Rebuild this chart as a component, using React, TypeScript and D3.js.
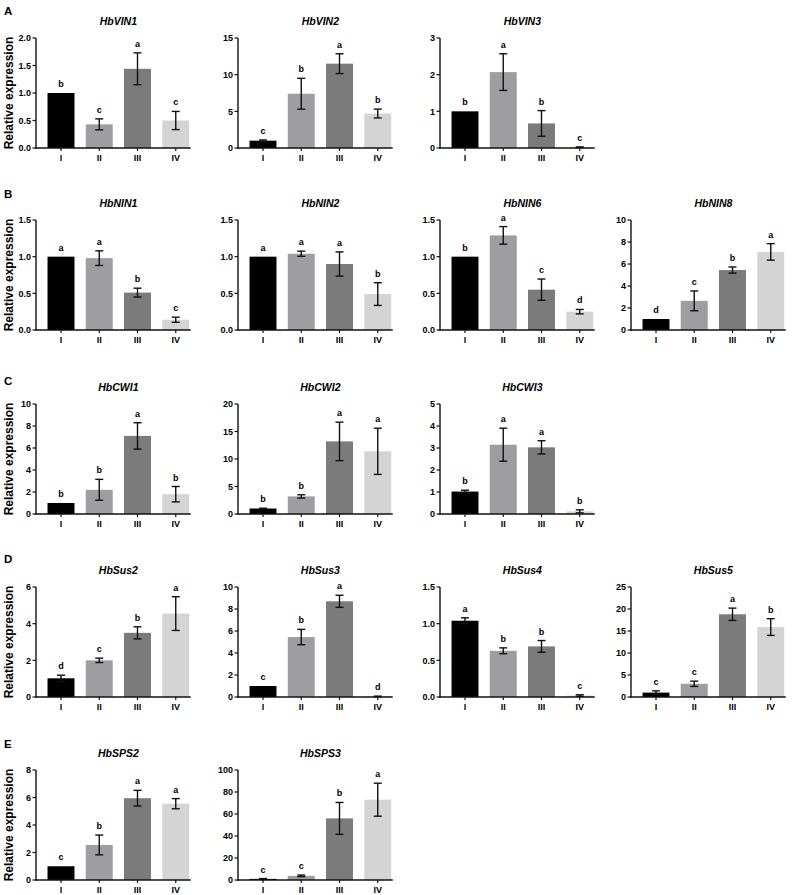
import React from "react";
import * as d3 from "d3";

const groups = ["I", "II", "III", "IV"];
const genes = [
  "HbVIN1", "HbVIN2", "HbVIN3",
  "HbNIN1", "HbNIN2", "HbNIN6", "HbNIN8",
  "HbCWI1", "HbCWI2", "HbCWI3",
  "HbSus2", "HbSus3", "HbSus4", "HbSus5",
  "HbSPS2", "HbSPS3",
];
const panelRows = [0, 0, 0, 1, 1, 1, 1, 2, 2, 2, 3, 3, 3, 3, 4, 4];
const panelCols = [0, 1, 2, 0, 1, 2, 3, 0, 1, 2, 0, 1, 2, 3, 0, 1];
const rowLetters = ["A", "B", "C", "D", "E"];
const yMaxes = [2, 15, 3, 1.5, 1.5, 1.5, 10, 10, 20, 5, 6, 10, 1.5, 25, 8, 100];
const tickSteps = [0.5, 5, 1, 0.5, 0.5, 0.5, 2, 2, 5, 1, 2, 2, 0.5, 5, 2, 20];
const meanValues = [
  [1.0, 0.43, 1.44, 0.5],
  [1.0, 7.4, 11.5, 4.7],
  [1.0, 2.07, 0.67, 0.02],
  [1.0, 0.98, 0.51, 0.14],
  [1.0, 1.04, 0.9, 0.49],
  [1.0, 1.29, 0.55, 0.25],
  [1.0, 2.65, 5.45, 7.1],
  [1.0, 2.2, 7.1, 1.8],
  [1.0, 3.2, 13.2, 11.4],
  [1.02, 3.15, 3.03, 0.12],
  [1.02, 2.0, 3.5, 4.55],
  [1.0, 5.45, 8.7, 0.05],
  [1.04, 0.63, 0.69, 0.02],
  [1.0, 3.0, 18.8, 15.9],
  [1.0, 2.55, 5.95, 5.55],
  [1.0, 3.8, 56, 73],
];
const errValues = [
  [0, 0.1, 0.29, 0.165],
  [0.1, 2.1, 1.35, 0.6],
  [0, 0.5, 0.35, 0.01],
  [0, 0.1, 0.06, 0.035],
  [0, 0.035, 0.165, 0.155],
  [0, 0.12, 0.145, 0.03],
  [0, 0.9, 0.28, 0.75],
  [0, 0.95, 1.2, 0.7],
  [0.05, 0.3, 3.5, 4.2],
  [0.06, 0.75, 0.3, 0.07],
  [0.17, 0.12, 0.33, 0.92],
  [0, 0.7, 0.55, 0.03],
  [0.04, 0.04, 0.08, 0.01],
  [0.4, 0.6, 1.4, 1.9],
  [0, 0.72, 0.57, 0.37],
  [0.3, 0.7, 14.5, 15],
];
const sigLetters = [
  ["b", "c", "a", "c"],
  ["c", "b", "a", "b"],
  ["b", "a", "b", "c"],
  ["a", "a", "b", "c"],
  ["a", "a", "a", "b"],
  ["b", "a", "c", "d"],
  ["d", "c", "b", "a"],
  ["b", "b", "a", "b"],
  ["b", "b", "a", "a"],
  ["b", "a", "a", "b"],
  ["d", "c", "b", "a"],
  ["c", "b", "a", "d"],
  ["a", "b", "b", "c"],
  ["c", "c", "a", "b"],
  ["c", "b", "a", "a"],
  ["c", "c", "b", "a"],
];

const barColors = ["#000000", "#9e9ea2", "#7b7b7b", "#d4d4d4"];
const rowZero = [148, 330, 514, 697, 880];
const rowLetterY = [15, 198, 385, 563, 748];
const colAxisX = [36, 238, 440, 631];
const plotH = 110;
const FONT = "'Liberation Sans', Arial, sans-serif";

function Panel({ i }: { i: number }) {
  const row = panelRows[i];
  const col = panelCols[i];
  const ax = colAxisX[col];
  const zeroY = rowZero[row];
  const step = 38.25;
  const x = d3
    .scaleBand<string>()
    .domain(groups)
    .range([ax + 25 - step / 2, ax + 25 - step / 2 + 4 * step])
    .paddingInner(0.295)
    .paddingOuter(0.1475);
  const y = d3.scaleLinear().domain([0, yMaxes[i]]).range([zeroY, zeroY - plotH]);
  const ticks = d3.range(0, yMaxes[i] + tickSteps[i] / 2, tickSteps[i]);
  const fmt = tickSteps[i] < 1 ? d3.format(".1f") : d3.format("d");
  const bw = x.bandwidth();
  const xEnd = (x("IV") as number) + bw + 1.5;
  const cx = ((x("I") as number) + (x("IV") as number) + bw) / 2;
  return (
    <g>
      <text
        x={cx}
        y={zeroY - plotH - 13}
        textAnchor="middle"
        fontFamily={FONT}
        fontWeight="bold"
        fontStyle="italic"
        fontSize={10.5}
      >
        {genes[i]}
      </text>
      {groups.map((g, k) => {
        const bx = x(g) as number;
        const m = meanValues[i][k];
        const e = errValues[i][k];
        const mid = bx + bw / 2;
        const top = y(m + e);
        return (
          <g key={g}>
            <rect x={bx} y={y(m)} width={bw} height={zeroY - y(m)} fill={barColors[k]} />
            {e > 0 && (
              <g stroke="#111" strokeWidth={1.4}>
                <line x1={mid} x2={mid} y1={y(m - e)} y2={y(m + e)} />
                <line x1={mid - 4} x2={mid + 4} y1={y(m + e)} y2={y(m + e)} />
                <line x1={mid - 4} x2={mid + 4} y1={y(m - e)} y2={y(m - e)} />
              </g>
            )}
            <text
              x={mid}
              y={top - 6}
              textAnchor="middle"
              fontFamily={FONT}
              fontWeight="bold"
              fontSize={9}
            >
              {sigLetters[i][k]}
            </text>
            <line x1={mid} x2={mid} y1={zeroY} y2={zeroY + 3} stroke="#111" strokeWidth={1.2} />
            <text
              x={mid}
              y={zeroY + 13}
              textAnchor="middle"
              fontFamily={FONT}
              fontWeight="bold"
              fontSize={9}
            >
              {g}
            </text>
          </g>
        );
      })}
      <line x1={ax} x2={ax} y1={zeroY + 0.7} y2={y(yMaxes[i])} stroke="#111" strokeWidth={1.4} />
      <line x1={ax - 0.7} x2={xEnd} y1={zeroY} y2={zeroY} stroke="#111" strokeWidth={1.4} />
      {ticks.map((t) => (
        <g key={t}>
          <line x1={ax - 3.5} x2={ax} y1={y(t)} y2={y(t)} stroke="#111" strokeWidth={1.2} />
          <text
            x={ax - 5}
            y={y(t) + 3.2}
            textAnchor="end"
            fontFamily={FONT}
            fontWeight="bold"
            fontSize={9}
          >
            {fmt(t)}
          </text>
        </g>
      ))}
    </g>
  );
}

export default function App() {
  return (
    <svg
      width={800}
      height={895}
      style={{ position: "absolute", left: 0, top: 0, background: "#fff" }}
    >
      <rect width={800} height={895} fill="#fff" />
      {rowLetters.map((L, r) => (
        <g key={L}>
          <text x={4} y={rowLetterY[r]} fontFamily={FONT} fontWeight="bold" fontSize={11.5}>
            {L}
          </text>
          <text
            transform={`translate(13,${rowZero[r] - plotH / 2}) rotate(-90)`}
            textAnchor="middle"
            fontFamily={FONT}
            fontWeight="bold"
            fontSize={12}
          >
            Relative expression
          </text>
        </g>
      ))}
      {genes.map((g, i) => (
        <Panel key={g} i={i} />
      ))}
    </svg>
  );
}
